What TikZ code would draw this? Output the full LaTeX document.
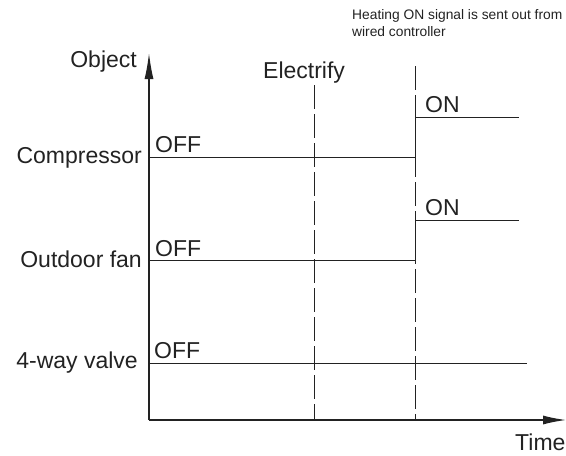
\documentclass[tikz,border=0pt]{standalone}
\usepackage{fontspec}
\setmainfont{Liberation Sans}
\usetikzlibrary{arrows.meta}
\definecolor{ink}{HTML}{222222}
\tikzset{
  biglabel/.style={inner sep=0pt, text=ink, font=\fontsize{23}{27}\selectfont},
  smalllabel/.style={inner sep=0pt, text=ink, font=\fontsize{13.8}{17}\selectfont},
  axisline/.style={line width=1.3pt, draw=ink},
  sigline/.style={line width=1pt, draw=ink},
  dashline/.style={line width=1pt, draw=ink, dash pattern=on 24pt off 5pt},
}
\begin{document}
\begin{tikzpicture}[x=1pt,y=-1pt]
\useasboundingbox (0,0) rectangle (566,456);
% axes
\coordinate (O) at (149,420);
\coordinate (ytip) at (149,53);
\coordinate (xtip) at (566,420);
\draw[axisline, -{Latex[length=26pt,width=9pt]}] (O) -- (ytip);
\draw[axisline, -{Latex[length=23pt,width=9pt]}] (O) -- (xtip);
% dashed lines
\coordinate (d1t) at (314,85);
\coordinate (d1b) at (314,420);
\coordinate (d2t) at (415.5,66);
\coordinate (d2b) at (415.5,420);
\draw[dashline] (d1t) -- (d1b);
\draw[dashline] (d2t) -- (d2b);
% compressor
\coordinate (c0) at (149,157);
\coordinate (c1) at (415.5,157);
\coordinate (c2) at (415.5,117.5);
\coordinate (c3) at (519,117.5);
\draw[sigline] (c0) -- (c1) -- (c2) -- (c3);
% outdoor fan
\coordinate (f0) at (149,260);
\coordinate (f1) at (415.5,260);
\coordinate (f2) at (415.5,220);
\coordinate (f3) at (519,220);
\draw[sigline] (f0) -- (f1) -- (f2) -- (f3);
% 4-way valve
\coordinate (v0) at (149,363);
\coordinate (v1) at (527,363);
\draw[sigline] (v0) -- (v1);
% labels
\node[biglabel, anchor=base east] (obj) at (137,67) {Object};
\node[biglabel, anchor=base east] (comp) at (142,163) {Compressor};
\node[biglabel, anchor=base east] (fan) at (142,267) {Outdoor fan};
\node[biglabel, anchor=base east] (valve) at (138,368) {4-way valve};
\node[biglabel, anchor=base west] (off1) at (155,152) {OFF};
\node[biglabel, anchor=base west] (off2) at (155,256) {OFF};
\node[biglabel, anchor=base west] (off3) at (154,358) {OFF};
\node[biglabel, anchor=base west] (on1) at (425,112) {ON};
\node[biglabel, anchor=base west] (on2) at (425,215) {ON};
\node[biglabel, anchor=base west] (elec) at (263,78) {Electrify};
\node[biglabel, anchor=base west] (time) at (515,450) {Time};
\node[smalllabel, anchor=base west] (h1) at (352,19) {Heating ON signal is sent out from};
\node[smalllabel, anchor=base west] (h2) at (352,36) {wired controller};
\end{tikzpicture}
\end{document}
